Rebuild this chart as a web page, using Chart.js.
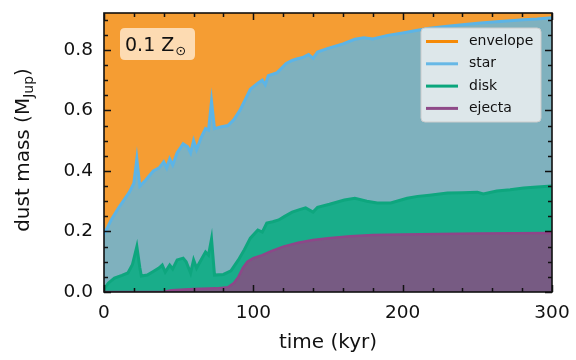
<!DOCTYPE html>
<html>
<head>
<meta charset="utf-8">
<script src="https://cdn.jsdelivr.net/npm/chart.js@4.4.0/dist/chart.umd.min.js"></script>
<style>
  html, body { margin: 0; padding: 0; background: #fff; }
  #wrap { width: 576px; height: 360px; }
</style>
</head>
<body>
<div id="wrap"><canvas id="dustChart" width="576" height="360"></canvas></div>
<script>
// cumulative (stacked) tops of each component
const envelopeTime = [0, 300];
const envelopeTop = [0.925, 0.925];

const starTime = [0, 5, 10, 17, 20, 22, 24, 28, 33, 37, 40, 42, 44, 46, 49, 53, 56, 58, 60, 62, 65, 68, 70, 72, 74, 78, 83, 87, 91, 95, 98, 103, 106, 108, 110, 116, 122, 126, 129, 133, 137, 140, 143, 150, 160, 168, 174, 180, 190, 200, 210, 218, 230, 240, 252, 265, 281, 290, 300];
const starTop = [0.19, 0.24, 0.28, 0.33, 0.36, 0.44, 0.35, 0.37, 0.40, 0.41, 0.43, 0.41, 0.44, 0.42, 0.46, 0.49, 0.48, 0.46, 0.50, 0.47, 0.51, 0.54, 0.535, 0.63, 0.54, 0.545, 0.55, 0.57, 0.60, 0.64, 0.67, 0.69, 0.70, 0.685, 0.715, 0.725, 0.755, 0.765, 0.77, 0.775, 0.785, 0.772, 0.793, 0.805, 0.82, 0.835, 0.84, 0.836, 0.848, 0.856, 0.865, 0.872, 0.878, 0.883, 0.889, 0.894, 0.90, 0.902, 0.906];

const diskTime = [0, 3, 7, 12, 16, 19, 22, 24, 25, 29, 33, 37, 39, 41, 44, 46, 49, 53, 55, 58, 60, 62, 66, 68, 70, 72, 74, 80, 85, 90, 94, 98, 103, 106, 109, 113, 117, 121, 126, 131, 135, 140, 143, 151, 161, 168, 176, 183, 192, 203, 210, 218, 230, 240, 250, 254, 263, 272, 281, 290, 300];
const diskTop = [0.01, 0.03, 0.046, 0.055, 0.063, 0.09, 0.15, 0.08, 0.053, 0.056, 0.068, 0.08, 0.089, 0.066, 0.089, 0.076, 0.106, 0.112, 0.10, 0.063, 0.106, 0.079, 0.115, 0.132, 0.122, 0.175, 0.056, 0.058, 0.07, 0.106, 0.14, 0.178, 0.205, 0.198, 0.228, 0.232, 0.238, 0.25, 0.264, 0.272, 0.278, 0.264, 0.28, 0.29, 0.304, 0.31, 0.30, 0.294, 0.294, 0.31, 0.316, 0.32, 0.327, 0.328, 0.33, 0.324, 0.334, 0.338, 0.344, 0.347, 0.35];

const ejectaTime = [0, 40, 45, 60, 75, 83, 87, 90, 93, 96, 100, 106, 112, 120, 130, 140, 150, 165, 180, 200, 250, 300];
const ejectaTop = [0, 0, 0.006, 0.01, 0.012, 0.016, 0.03, 0.05, 0.08, 0.10, 0.112, 0.122, 0.135, 0.15, 0.163, 0.172, 0.178, 0.184, 0.188, 0.19, 0.193, 0.195];

const xTicks = [0, 100, 200, 300];
const yTicks = [0, 0.2, 0.4, 0.6, 0.8];

const FONT = "DejaVu Sans";

function toPoints(xs, ys) {
  return xs.map((x, i) => ({ x: x, y: ys[i] }));
}

const legendItems = [
  { label: "envelope", color: "#f58a07" },
  { label: "star", color: "#66b8e6" },
  { label: "disk", color: "#0aa67c" },
  { label: "ejecta", color: "#8e4a88" },
];

function roundRect(ctx, x, y, w, h, r) {
  ctx.beginPath();
  ctx.moveTo(x + r, y);
  ctx.lineTo(x + w - r, y);
  ctx.quadraticCurveTo(x + w, y, x + w, y + r);
  ctx.lineTo(x + w, y + h - r);
  ctx.quadraticCurveTo(x + w, y + h, x + w - r, y + h);
  ctx.lineTo(x + r, y + h);
  ctx.quadraticCurveTo(x, y + h, x, y + h - r);
  ctx.lineTo(x, y + r);
  ctx.quadraticCurveTo(x, y, x + r, y);
  ctx.closePath();
}

// frame, inward ticks, legend, labels
const decorPlugin = {
  id: "decor",
  afterDraw(chart) {
    const ctx = chart.ctx;
    const a = chart.chartArea;
    const xs = chart.scales.x;
    const ys = chart.scales.y;
    ctx.save();

    // inward ticks on all four sides
    ctx.strokeStyle = "#111";
    ctx.lineWidth = 1.5;
    ctx.beginPath();
    for (let v = 0; v <= 300; v += 20) {
      const px = Math.round(xs.getPixelForValue(v)) + 0.5;
      const len = v % 100 === 0 ? 7 : 4;
      ctx.moveTo(px, a.bottom); ctx.lineTo(px, a.bottom - len);
      ctx.moveTo(px, a.top); ctx.lineTo(px, a.top + len);
    }
    for (let i = 0; i <= 18; i++) {
      const v = i * 0.05;
      const py = Math.round(ys.getPixelForValue(v)) + 0.5;
      const len = i % 4 === 0 ? 7 : 4;
      ctx.moveTo(a.left, py); ctx.lineTo(a.left + len, py);
      ctx.moveTo(a.right, py); ctx.lineTo(a.right - len, py);
    }
    ctx.stroke();

    ctx.lineWidth = 1.6;
    ctx.strokeRect(a.left, a.top, a.right - a.left, a.bottom - a.top);

    // metallicity label
    ctx.fillStyle = "rgba(255, 235, 210, 0.8)";
    roundRect(ctx, 120, 28, 75, 32, 5);
    ctx.fill();
    ctx.fillStyle = "#111";
    ctx.textBaseline = "alphabetic";
    ctx.textAlign = "left";
    ctx.font = "19px '" + FONT + "'";
    ctx.fillText("0.1 Z", 125, 51);
    const zw = ctx.measureText("0.1 Z").width;
    ctx.font = "13px '" + FONT + "'";
    ctx.fillText("\u2299", 125 + zw + 1, 55);

    // legend
    ctx.fillStyle = "rgba(245, 245, 245, 0.8)";
    roundRect(ctx, 421, 28, 120, 94, 4);
    ctx.fill();
    ctx.strokeStyle = "#cccccc";
    ctx.lineWidth = 1;
    ctx.stroke();
    ctx.font = "14px '" + FONT + "'";
    ctx.textBaseline = "middle";
    legendItems.forEach((item, i) => {
      const y = 41.5 + i * 22.3;
      ctx.strokeStyle = item.color;
      ctx.lineWidth = 3;
      ctx.beginPath();
      ctx.moveTo(426, y);
      ctx.lineTo(458, y);
      ctx.stroke();
      ctx.fillStyle = "#111";
      ctx.fillText(item.label, 469, y);
    });

    // axis titles
    ctx.font = "20px '" + FONT + "'";
    ctx.textBaseline = "alphabetic";
    ctx.textAlign = "center";
    ctx.fillText("time (kyr)", (a.left + a.right) / 2, 348);

    ctx.translate(29, 150);
    ctx.rotate(-Math.PI / 2);
    ctx.textAlign = "left";
    const part1 = "dust mass (M";
    const sub = "Jup";
    const part3 = ")";
    ctx.font = "20px '" + FONT + "'";
    const w1 = ctx.measureText(part1).width;
    const w3 = ctx.measureText(part3).width;
    ctx.font = "14px '" + FONT + "'";
    const w2 = ctx.measureText(sub).width;
    let x0 = -(w1 + w2 + w3) / 2;
    ctx.font = "20px '" + FONT + "'";
    ctx.fillText(part1, x0, 0);
    ctx.font = "14px '" + FONT + "'";
    ctx.fillText(sub, x0 + w1, 4);
    ctx.font = "20px '" + FONT + "'";
    ctx.fillText(part3, x0 + w1 + w2, 0);

    ctx.restore();
  },
};

function zeroPadding(scale) {
  scale.paddingTop = 0;
  scale.paddingBottom = 0;
  scale.paddingLeft = 0;
  scale.paddingRight = 0;
}

const ctx = document.getElementById("dustChart").getContext("2d");
new Chart(ctx, {
  type: "line",
  data: {
    datasets: [
      {
        label: "envelope",
        data: toPoints(envelopeTime, envelopeTop),
        borderColor: "#f08a0c",
        backgroundColor: "#f59d33",
        borderWidth: 3,
        fill: "origin",
        order: 4,
      },
      {
        label: "star",
        data: toPoints(starTime, starTop),
        borderColor: "#5cb4e6",
        backgroundColor: "#7fb1be",
        borderWidth: 3,
        fill: "origin",
        order: 3,
      },
      {
        label: "disk",
        data: toPoints(diskTime, diskTop),
        borderColor: "#0ea67e",
        backgroundColor: "#19ad8a",
        borderWidth: 3,
        fill: "origin",
        order: 2,
      },
      {
        label: "ejecta",
        data: toPoints(ejectaTime, ejectaTop),
        borderColor: "#8e4689",
        backgroundColor: "#775b83",
        borderWidth: 2.5,
        fill: "origin",
        order: 1,
      },
    ],
  },
  options: {
    responsive: false,
    animation: false,
    devicePixelRatio: 1,
    layout: { padding: { top: 13, right: 24, left: 0, bottom: 0 } },
    elements: {
      point: { radius: 0 },
      line: { tension: 0 },
    },
    datasets: { line: { clip: 0 } },
    plugins: {
      legend: { display: false },
      tooltip: { enabled: false },
    },
    scales: {
      x: {
        type: "linear",
        min: 0,
        max: 300,
        grid: { display: false, drawTicks: false },
        border: { display: false },
        afterFit: (scale) => { scale.height = 68; zeroPadding(scale); },
        afterBuildTicks: (scale) => { scale.ticks = xTicks.map((v) => ({ value: v })); },
        ticks: {
          padding: 10,
          color: "#111",
          font: { family: FONT, size: 18.5 },
          callback: (v) => String(v),
        },
      },
      y: {
        type: "linear",
        min: 0,
        max: 0.922,
        grid: { display: false, drawTicks: false },
        border: { display: false },
        afterFit: (scale) => { scale.width = 104; zeroPadding(scale); },
        afterBuildTicks: (scale) => { scale.ticks = yTicks.map((v) => ({ value: v })); },
        ticks: {
          padding: 11,
          color: "#111",
          font: { family: FONT, size: 18.5 },
          callback: (v) => v.toFixed(1),
        },
      },
    },
  },
  plugins: [decorPlugin],
});
</script>
</body>
</html>
